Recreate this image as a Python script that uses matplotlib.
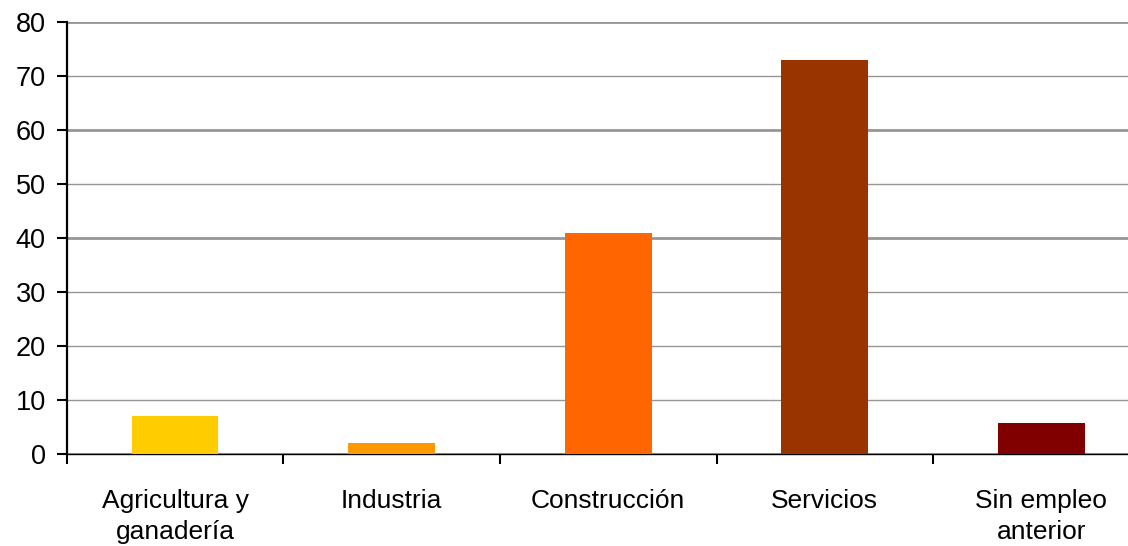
import matplotlib
matplotlib.use("Agg")
import matplotlib.pyplot as plt
import numpy as np

categories = ["Agricultura y\nganadería", "Industria", "Construcción", "Servicios", "Sin empleo\nanterior"]
values = [7.1, 2.0, 41.0, 73.1, 5.8]
colors = ["#FFCC00", "#FF9900", "#FF6600", "#993300", "#800000"]
yticks = [0, 10, 20, 30, 40, 50, 60, 70, 80]

plt.rcParams['font.family'] = ['Liberation Sans', 'DejaVu Sans']

W, H = 1128, 546
fig = plt.figure(figsize=(W / 100, H / 100), dpi=100)
left = 66.7 / W
bottom = 1 - 454 / H
height = (454 - 22.3) / H
width = (5 * 216.6) / W
ax = fig.add_axes([left, bottom, width, height])

x = np.arange(len(categories))
ax.bar(x, values, width=0.4, color=colors, zorder=3)

ax.set_xlim(-0.5, len(categories) - 0.5)
ax.set_ylim(0, 80)
ax.set_yticks(yticks)
ax.set_yticklabels([str(v) for v in yticks])

ax.set_xticks(x)
ax.set_xticklabels(categories, fontsize=19, linespacing=1.38)
ax.set_xticks(np.arange(-0.5, len(categories), 1.0), minor=True)
ax.tick_params(axis='x', which='major', length=0, pad=25)
ax.tick_params(axis='x', which='minor', length=7, width=1.5, color='black', direction='out')
ax.tick_params(axis='y', length=7, width=1.5, color='black', direction='out', labelsize=19.5, pad=8)

ax.yaxis.grid(True, color='#969696', zorder=0)
ax.set_axisbelow(True)
for val, gl in zip(yticks, ax.get_ygridlines()):
    if val in (0, 40, 60, 80):
        gl.set_linewidth(2.0)
    else:
        gl.set_linewidth(1.0)

for s in ['top', 'right']:
    ax.spines[s].set_visible(False)
ax.spines['left'].set_linewidth(1.6)
ax.spines['left'].set_color('black')
ax.spines['bottom'].set_linewidth(1.0)
ax.spines['bottom'].set_color('black')
ax.spines['left'].set_zorder(4)

fig.savefig("out.png", dpi=100)
